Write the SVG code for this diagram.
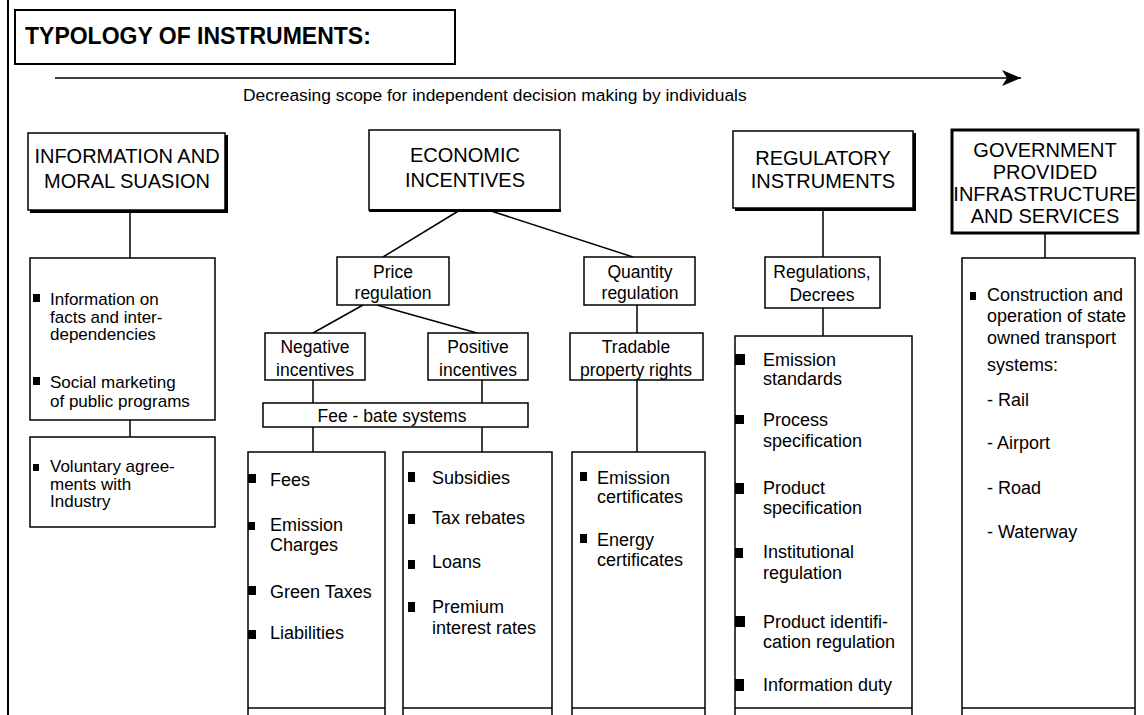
<svg xmlns="http://www.w3.org/2000/svg" width="1144" height="715" viewBox="0 0 1144 715">
<defs>
<style>
.box{fill:#fff;stroke:#000;stroke-width:1.5}
.ln{stroke:#000;stroke-width:1.5;fill:none}
.sh{stroke:#000;stroke-width:3;fill:none}
text{font-family:"Liberation Sans",Arial,sans-serif;fill:#000}
.title{font-size:23px;font-weight:bold}
.hdr{font-size:20px;text-anchor:middle}
.sub{font-size:17.5px;text-anchor:middle}
.body{font-size:18px}
.body1{font-size:17px}
.cap{font-size:17.4px}
.bul{fill:#000}
</style>
<marker id="ah" markerUnits="userSpaceOnUse" markerWidth="20" markerHeight="16" refX="19" refY="8" orient="auto"><path d="M0,0 L19,8 L0,16 L5,8 z" fill="#000"/></marker>
</defs>
<rect width="1144" height="715" fill="#fff"/>
<line x1="8" y1="0" x2="8" y2="715" stroke="#000" stroke-width="2"/>

<g id="title">
<rect x="15" y="10" width="440" height="54" fill="#fff" stroke="#000" stroke-width="2"/>
<text class="title" x="25" y="44">TYPOLOGY OF INSTRUMENTS:</text>
</g>

<g id="scope-arrow">
<line class="ln" x1="55" y1="78" x2="1021" y2="78" marker-end="url(#ah)"/>
<text class="cap" x="243" y="101">Decreasing scope for independent decision making by individuals</text>
</g>

<g id="connectors">
<line class="ln" x1="130" y1="210" x2="130" y2="258"/>
<line class="ln" x1="130" y1="420" x2="130" y2="437"/>
<line class="ln" x1="460" y1="210" x2="383" y2="257"/>
<line class="ln" x1="488" y1="210" x2="633" y2="257"/>
<line class="ln" x1="363" y1="305" x2="313" y2="333"/>
<line class="ln" x1="377" y1="305" x2="477" y2="333"/>
<line class="ln" x1="637" y1="305" x2="637" y2="333"/>
<line class="ln" x1="313" y1="380" x2="313" y2="403"/>
<line class="ln" x1="482" y1="380" x2="482" y2="403"/>
<line class="ln" x1="313" y1="427" x2="313" y2="452"/>
<line class="ln" x1="482" y1="427" x2="482" y2="452"/>
<line class="ln" x1="637" y1="380" x2="637" y2="452"/>
<line class="ln" x1="823" y1="208" x2="823" y2="257"/>
<line class="ln" x1="823" y1="308" x2="823" y2="336"/>
<line class="ln" x1="1045" y1="233" x2="1045" y2="258"/>
</g>

<g id="info-moral">
<rect class="box" x="28" y="133" width="197" height="77"/>
<polyline class="sh" points="30,211.5 226.5,211.5 226.5,135"/>
<text class="hdr" x="127" y="163">INFORMATION AND</text>
<text class="hdr" x="127" y="188">MORAL SUASION</text>
</g>

<g id="info-list">
<rect class="box" x="30" y="258" width="185" height="162"/>
<rect class="bul" x="33" y="294" width="7" height="8"/>
<text class="body1" x="50" y="305">Information on<tspan x="50" dy="17.5">facts and inter-</tspan><tspan x="50" dy="17.5">dependencies</tspan></text>
<rect class="bul" x="33" y="377" width="7" height="8"/>
<text class="body1" x="50" y="388">Social marketing<tspan x="50" dy="18.5">of public programs</tspan></text>
</g>

<g id="voluntary">
<rect class="box" x="30" y="437" width="185" height="90"/>
<rect class="bul" x="33" y="464" width="6" height="7"/>
<text class="body1" x="50" y="472">Voluntary agree-<tspan x="50" dy="17.5">ments with</tspan><tspan x="50" dy="17.5">Industry</tspan></text>
</g>

<g id="economic">
<rect class="box" x="369" y="130" width="191" height="80"/>
<line class="sh" x1="369" y1="210.5" x2="561" y2="210.5"/>
<text class="hdr" x="465" y="162">ECONOMIC</text>
<text class="hdr" x="465" y="187">INCENTIVES</text>
</g>

<g id="price">
<rect class="box" x="337" y="257" width="112" height="48"/>
<text class="sub" x="393" y="278">Price<tspan x="393" dy="21">regulation</tspan></text>
</g>

<g id="quantity">
<rect class="box" x="584" y="257" width="111" height="48"/>
<text class="sub" x="640" y="278">Quantity<tspan x="640" dy="21">regulation</tspan></text>
</g>

<g id="negative">
<rect class="box" x="265" y="333" width="100" height="47"/>
<text class="sub" x="315" y="353">Negative<tspan x="315" dy="23">incentives</tspan></text>
</g>

<g id="positive">
<rect class="box" x="428" y="333" width="100" height="47"/>
<text class="sub" x="478" y="353">Positive<tspan x="478" dy="23">incentives</tspan></text>
</g>

<g id="tradable">
<rect class="box" x="570" y="333" width="133" height="47"/>
<text class="sub" x="636" y="353">Tradable<tspan x="636" dy="23">property rights</tspan></text>
</g>

<g id="feebate">
<rect class="box" x="263" y="403" width="265" height="24"/>
<text class="sub" x="392" y="422">Fee - bate systems</text>
</g>

<g id="fees-list">
<rect class="box" x="248" y="452" width="137" height="270"/>
<line class="ln" x1="248" y1="708" x2="385" y2="708"/>
<rect class="bul" x="248" y="474" width="8" height="9"/>
<text class="body" x="270" y="486">Fees</text>
<rect class="bul" x="248" y="522" width="7" height="8"/>
<text class="body" x="270" y="531">Emission<tspan x="270" dy="20">Charges</tspan></text>
<rect class="bul" x="248" y="586" width="8" height="9"/>
<text class="body" x="270" y="598">Green Taxes</text>
<rect class="bul" x="248" y="630" width="8" height="9"/>
<text class="body" x="270" y="639">Liabilities</text>
</g>

<g id="subsidies-list">
<rect class="box" x="403" y="452" width="149" height="270"/>
<line class="ln" x1="403" y1="708" x2="552" y2="708"/>
<rect class="bul" x="408" y="472" width="7" height="10"/>
<text class="body" x="432" y="484">Subsidies</text>
<rect class="bul" x="408" y="514" width="7" height="10"/>
<text class="body" x="432" y="524">Tax rebates</text>
<rect class="bul" x="408" y="560" width="7" height="9"/>
<text class="body" x="432" y="568">Loans</text>
<rect class="bul" x="408" y="602" width="7" height="10"/>
<text class="body" x="432" y="613">Premium<tspan x="432" dy="21">interest rates</tspan></text>
</g>

<g id="certificates-list">
<rect class="box" x="572" y="452" width="133" height="270"/>
<line class="ln" x1="572" y1="708" x2="705" y2="708"/>
<rect class="bul" x="580" y="472" width="7" height="9"/>
<text class="body" x="597" y="484">Emission<tspan x="597" dy="19">certificates</tspan></text>
<rect class="bul" x="580" y="534" width="7" height="9"/>
<text class="body" x="597" y="546">Energy<tspan x="597" dy="20">certificates</tspan></text>
</g>

<g id="regulatory">
<rect class="box" x="733" y="131" width="180" height="77"/>
<polyline class="sh" points="735,209.5 914.5,209.5 914.5,133"/>
<text class="hdr" x="823" y="165">REGULATORY</text>
<text class="hdr" x="823" y="188">INSTRUMENTS</text>
</g>

<g id="decrees">
<rect class="box" x="765" y="257" width="115" height="51"/>
<text class="sub" x="822" y="278">Regulations,<tspan x="822" dy="23">Decrees</tspan></text>
</g>

<g id="regulatory-list">
<rect class="box" x="735" y="336" width="177" height="386"/>
<line class="ln" x1="735" y1="708" x2="912" y2="708"/>
<rect class="bul" x="735" y="354" width="10" height="11"/>
<text class="body" x="763" y="366">Emission<tspan x="763" dy="19">standards</tspan></text>
<rect class="bul" x="735" y="415" width="9" height="9"/>
<text class="body" x="763" y="426">Process<tspan x="763" dy="21">specification</tspan></text>
<rect class="bul" x="735" y="483" width="9" height="11"/>
<text class="body" x="763" y="494">Product<tspan x="763" dy="20">specification</tspan></text>
<rect class="bul" x="735" y="548" width="8" height="10"/>
<text class="body" x="763" y="558">Institutional<tspan x="763" dy="21">regulation</tspan></text>
<rect class="bul" x="735" y="616" width="10" height="11"/>
<text class="body" x="763" y="628">Product identifi-<tspan x="763" dy="20">cation regulation</tspan></text>
<rect class="bul" x="735" y="679" width="9" height="12"/>
<text class="body" x="763" y="691">Information duty</text>
</g>

<g id="government">
<rect x="952" y="130" width="186" height="103" fill="#fff" stroke="#000" stroke-width="3"/>
<text class="hdr" x="1045" y="157">GOVERNMENT</text>
<text class="hdr" x="1045" y="179">PROVIDED</text>
<text class="hdr" x="1045" y="201">INFRASTRUCTURE</text>
<text class="hdr" x="1045" y="223">AND SERVICES</text>
</g>

<g id="government-list">
<rect class="box" x="962" y="258" width="173" height="464"/>
<line class="ln" x1="962" y1="708" x2="1135" y2="708"/>
<rect class="bul" x="970" y="292" width="6" height="8"/>
<text class="body" x="987" y="301">Construction and<tspan x="987" dy="21">operation of state</tspan><tspan x="987" dy="22">owned transport</tspan><tspan x="987" dy="27">systems:</tspan></text>
<text class="body" x="987" y="406">- Rail</text>
<text class="body" x="987" y="449">- Airport</text>
<text class="body" x="987" y="494">- Road</text>
<text class="body" x="987" y="538">- Waterway</text>
</g>
</svg>
